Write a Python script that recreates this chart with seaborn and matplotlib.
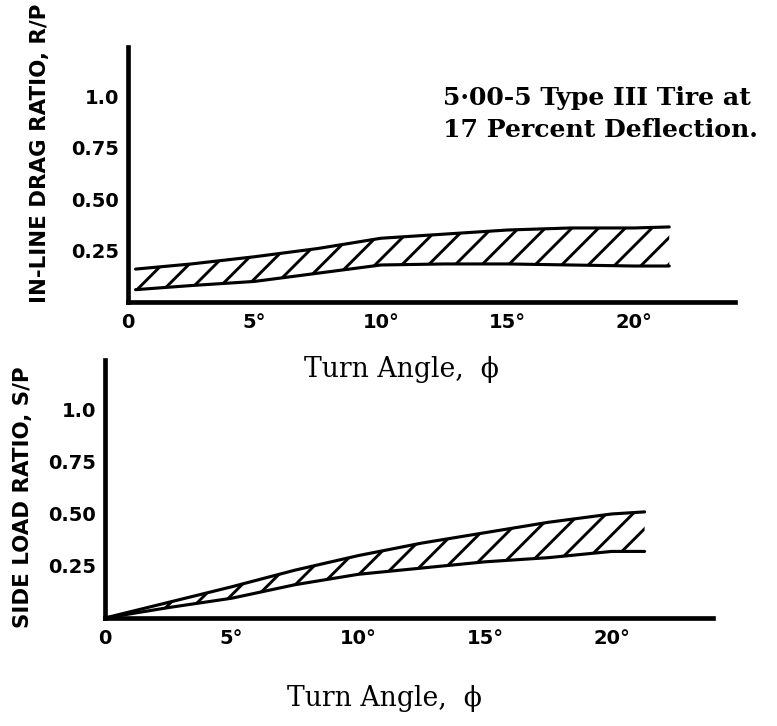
import matplotlib
matplotlib.use("Agg")
import matplotlib.pyplot as plt
import seaborn as sns

# values, turn angle in degrees
drag_angle = [0.3, 2.5, 5, 7.5, 10, 12.5, 15, 17.5, 20, 21.4]
drag_upper = [0.16, 0.185, 0.22, 0.26, 0.31, 0.33, 0.35, 0.36, 0.36, 0.365]
drag_lower = [0.06, 0.08, 0.10, 0.14, 0.18, 0.185, 0.185, 0.18, 0.175, 0.175]

side_angle = [0, 2.5, 5, 7.5, 10, 12.5, 15, 17.5, 20, 21.3]
side_upper = [0, 0.075, 0.15, 0.23, 0.30, 0.36, 0.41, 0.46, 0.50, 0.51]
side_lower = [0, 0.05, 0.095, 0.16, 0.21, 0.24, 0.27, 0.29, 0.32, 0.32]

x_ticks = [0, 5, 10, 15, 20]
x_tick_labels = ["0", "5°", "10°", "15°", "20°"]
y_ticks = [0.25, 0.5, 0.75, 1.0]
y_tick_labels = ["0.25", "0.50", "0.75", "1.0"]

note = "5·00-5 Type III Tire at\n17 Percent Deflection."
x_label = "Turn Angle,  ϕ"

DPI = 160
W, H = 777, 726

sns.set_theme(style="white")
plt.rcParams["font.family"] = ["DejaVu Sans"]
plt.rcParams["hatch.linewidth"] = 1.3
plt.rcParams["hatch.color"] = "black"


def draw_band(ax, angle, upper, lower, ylabel, ylab_xy, xlab_xy):
    ax.set_facecolor("none")
    ax.fill_between(angle, lower, upper, facecolor="none", edgecolor="black",
                    hatch="//", linewidth=0)
    sns.lineplot(x=angle, y=upper, ax=ax, color="black", lw=1.4)
    sns.lineplot(x=angle, y=lower, ax=ax, color="black", lw=1.4)

    ax.set_xlim(0, 24)
    ax.set_ylim(0, 1.24)
    sns.despine(ax=ax)
    for side in ["left", "bottom"]:
        ax.spines[side].set_linewidth(2.1)
        ax.spines[side].set_color("black")

    ax.set_xticks(x_ticks)
    ax.set_xticklabels(x_tick_labels, fontsize=8.8, fontweight="bold")
    ax.set_yticks(y_ticks)
    ax.set_yticklabels(y_tick_labels, fontsize=8.8, fontweight="bold")
    ax.tick_params(direction="in", length=3.6, width=1.1, color="black",
                   labelcolor="black")
    ax.tick_params(axis="x", pad=5)
    ax.tick_params(axis="y", pad=4)

    ax.set_ylabel(ylabel, fontsize=9.6, fontweight="bold", color="black")
    ax.yaxis.set_label_coords(*ylab_xy)
    ax.set_xlabel(x_label, fontsize=12, family="DejaVu Serif", color="black")
    ax.xaxis.set_label_coords(*xlab_xy)


fig = plt.figure(figsize=(W / DPI, H / DPI), dpi=DPI)
ax1 = fig.add_axes([128 / W, 1 - 302 / H, 607 / W, 255 / H])
ax2 = fig.add_axes([105 / W, 1 - 618 / H, 608 / W, 258 / H])

draw_band(ax1, drag_angle, drag_upper, drag_lower,
          "IN-LINE DRAG RATIO, R/P", (-0.128, 0.585), (0.45, -0.21))
draw_band(ax2, side_angle, side_upper, side_lower,
          "SIDE LOAD RATIO, S/P", (-0.118, 0.47), (0.46, -0.26))

fig.text(443 / W, 1 - 86 / H, note, ha="left", va="top", fontsize=11.3,
         family="DejaVu Serif", fontweight="bold", linespacing=1.4,
         color="black")

fig.savefig("out.png", dpi=DPI, facecolor="white")
